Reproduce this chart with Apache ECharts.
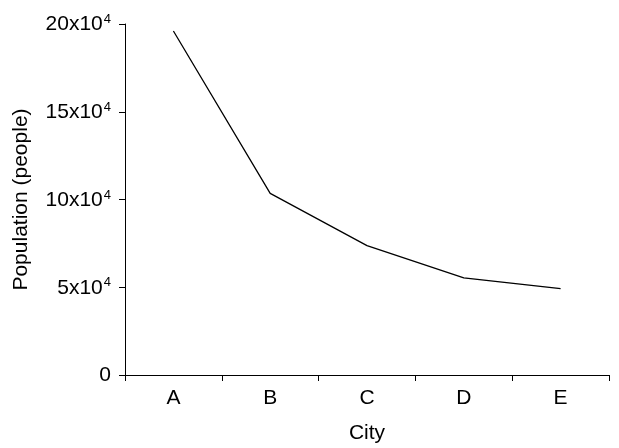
<!DOCTYPE html>
<html><head><meta charset="utf-8">
<script src="https://cdn.jsdelivr.net/npm/echarts@6/dist/echarts.min.js"></script>
<style>html,body{margin:0;padding:0;background:#fff}#c{width:619px;height:448px}</style>
</head><body><div id="c"></div>
<script>
var categories = ['A', 'B', 'C', 'D', 'E'];
var population = [196000, 103500, 73700, 55400, 49200];
var yTicks = [0, 50000, 100000, 150000, 200000];
var yTickLabels = ['0', '5x10^4', '10x10^4', '15x10^4', '20x10^4'];

var chart = echarts.init(document.getElementById('c'));
var F = '"Liberation Sans", Arial, sans-serif';
chart.setOption({
  animation: false,
  grid: {left: 125, right: 10, top: 24, bottom: 73, containLabel: false, outerBoundsMode: 'none'},
  xAxis: {
    type: 'category', data: categories, boundaryGap: true,
    name: 'City', nameLocation: 'middle', nameGap: 48,
    nameTextStyle: {color: '#000', fontSize: 21, fontFamily: F},
    axisLine: {lineStyle: {color: '#000', width: 1}},
    axisTick: {show: true, length: 6, lineStyle: {color: '#000'}},
    axisLabel: {color: '#000', fontSize: 21, fontFamily: F, margin: 13},
    splitLine: {show: false}
  },
  yAxis: {
    type: 'value', min: yTicks[0], max: yTicks[yTicks.length-1], interval: 50000,
    name: 'Population (people)', nameLocation: 'middle', nameGap: 93, nameRotate: 90,
    nameTextStyle: {color: '#000', fontSize: 21, fontFamily: F},
    axisLine: {show: true, lineStyle: {color: '#000', width: 1}},
    axisTick: {show: true, length: 6, lineStyle: {color: '#000'}},
    splitLine: {show: false},
    axisLabel: {
      margin: 14,
      formatter: function (v) {
        var idx = yTicks.indexOf(v);
        var s = idx >= 0 ? yTickLabels[idx] : String(v);
        var p = s.split('^');
        if (p.length === 1) return '{a|' + p[0] + '}';
        return '{a|' + p[0] + '}{s|' + p[1] + '}';
      },
      rich: {
        a: {color: '#000', fontSize: 21, fontFamily: F, lineHeight: 22, verticalAlign: 'bottom'},
        s: {color: '#000', fontSize: 13, fontFamily: F, lineHeight: 22, verticalAlign: 'top', padding: [0, 0, 0, 1]}
      }
    }
  },
  series: [{
    type: 'line', data: population, symbol: 'none',
    lineStyle: {color: '#000', width: 1.3}
  }]
});
</script></body></html>
